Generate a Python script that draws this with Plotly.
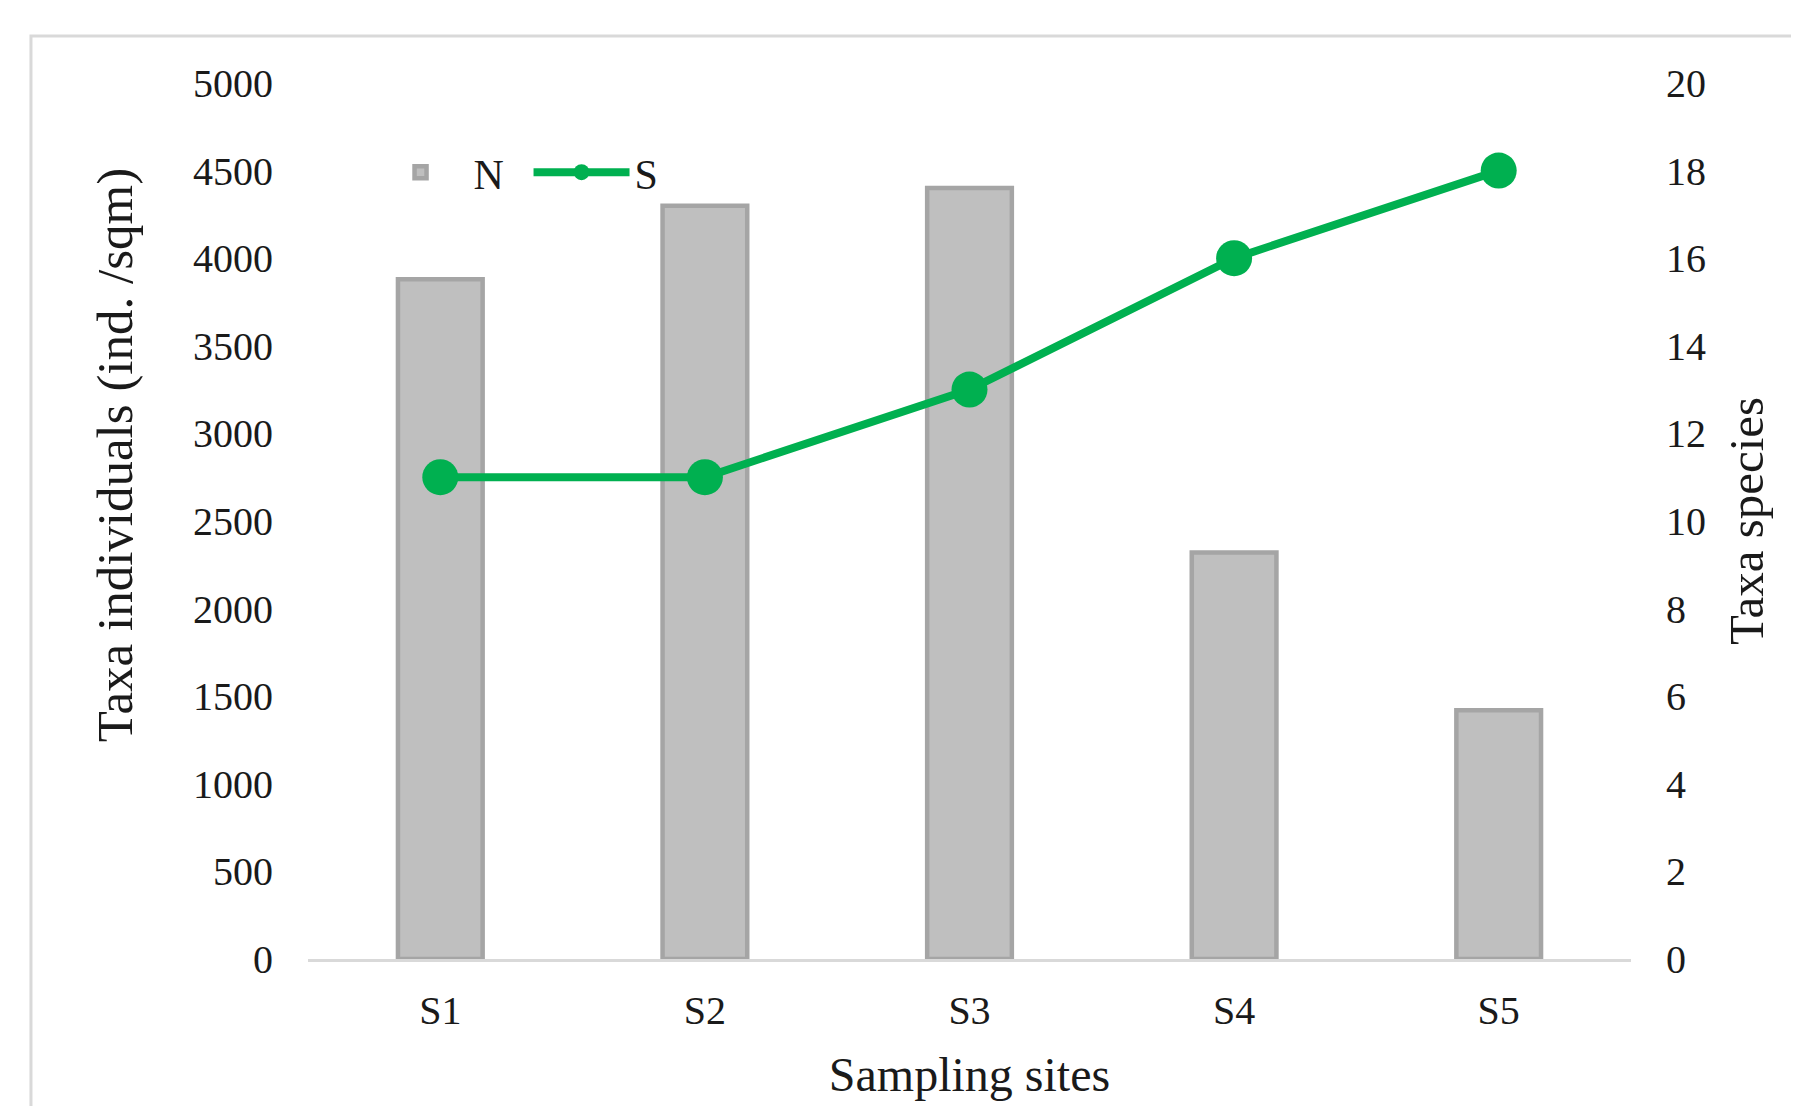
import plotly.graph_objects as go

sites = ["S1", "S2", "S3", "S4", "S5"]
n_individuals = [3880, 4300, 4400, 2320, 1420]
s_species = [11, 11, 13, 16, 18]

left_ticks = list(range(0, 5001, 500))
right_ticks = list(range(0, 21, 2))

FONT = "Liberation Serif"
TXT = "#1a1a1a"

fig = go.Figure()
fig.add_trace(go.Bar(
    x=sites, y=n_individuals, name="N",
    marker=dict(color="#BFBFBF", line=dict(color="#A5A5A5", width=4.5)),
    yaxis="y",
))
fig.add_trace(go.Scatter(
    x=sites, y=s_species, name="S", mode="lines+markers",
    line=dict(color="#00B050", width=8),
    marker=dict(color="#00B050", size=36),
    yaxis="y2",
))

fig.update_layout(
    width=1799, height=1106,
    margin=dict(l=300, r=176, t=75, b=155),
    paper_bgcolor="white", plot_bgcolor="white",
    font=dict(family=FONT, color=TXT, size=40),
    bargap=0.68,
    showlegend=True,
    legend=dict(orientation="h", x=0.045, xanchor="left", y=0.898, yanchor="middle",
                font=dict(size=42, family=FONT, color=TXT), itemwidth=96,
                entrywidth=50, entrywidthmode="pixels",
                bgcolor="rgba(0,0,0,0)", tracegroupgap=0, traceorder="normal"),
    xaxis=dict(
        showline=True, linecolor="#D9D9D9", linewidth=3,
        showgrid=False, zeroline=False, ticks="",
        tickfont=dict(size=40, family=FONT, color=TXT),
        ticklabelstandoff=14,
        range=[-0.5, 4.5],
        title=dict(text="Sampling sites", font=dict(size=48, family=FONT, color=TXT), standoff=26),
    ),
    yaxis=dict(
        range=[0, 5000], tickvals=left_ticks, ticktext=[str(v) for v in left_ticks],
        showgrid=False, zeroline=False, showline=False, ticks="",
        tickfont=dict(size=40, family=FONT, color=TXT),
        ticklabelstandoff=34,
    ),
    yaxis2=dict(
        range=[0, 20], tickvals=right_ticks, ticktext=[str(v) for v in right_ticks],
        overlaying="y", side="right",
        showgrid=False, zeroline=False, showline=False, ticks="",
        tickfont=dict(size=40, family=FONT, color=TXT),
        ticklabelstandoff=34,
    ),
    annotations=[
        dict(text="Taxa individuals (ind. /sqm)", xref="paper", yref="paper",
             x=-0.146, y=0.575, xanchor="center", yanchor="middle", textangle=-90,
             showarrow=False, font=dict(size=51, family=FONT, color=TXT)),
        dict(text="Taxa species", xref="paper", yref="paper",
             x=1.087, y=0.5, xanchor="center", yanchor="middle", textangle=-90,
             showarrow=False, font=dict(size=49, family=FONT, color=TXT)),
    ],
    shapes=[
        dict(type="rect", xref="paper", yref="paper", x0=-0.2094, x1=1.4, y0=-0.4, y1=1.0537,
             line=dict(color="#D9D9D9", width=3), fillcolor="rgba(0,0,0,0)", layer="below"),
    ],
)

fig.write_html("out.html")
